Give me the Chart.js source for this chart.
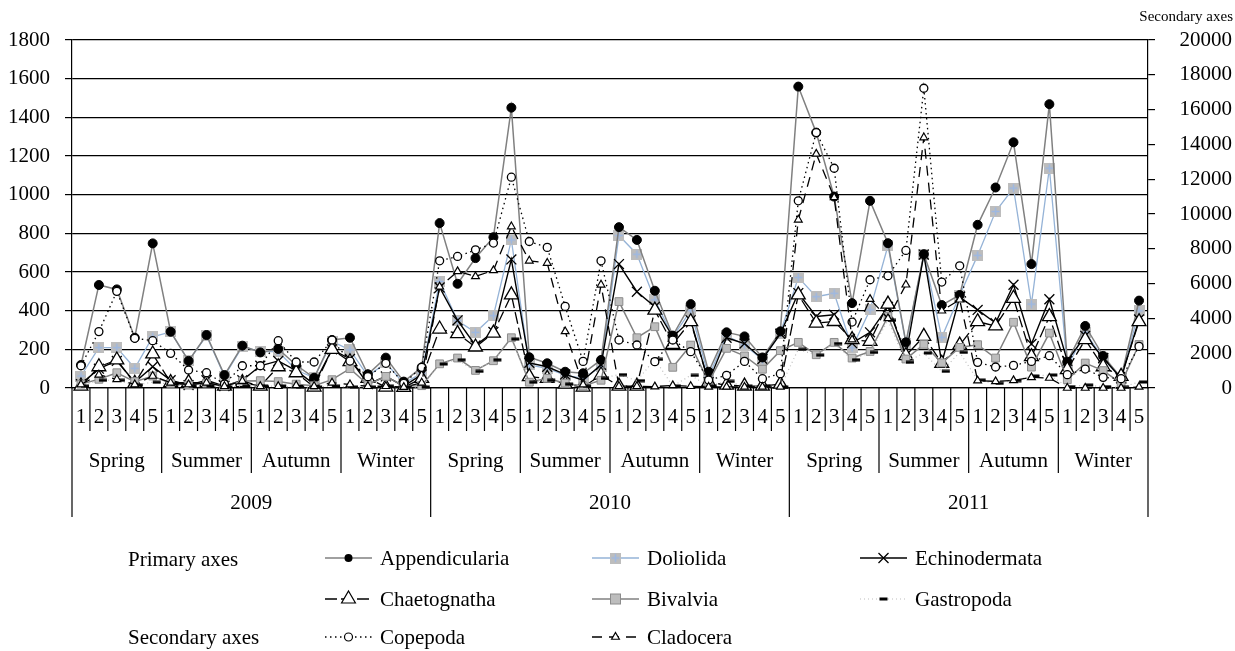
<!DOCTYPE html>
<html><head><meta charset="utf-8">
<script src="https://cdn.jsdelivr.net/npm/chart.js@4.4.1/dist/chart.umd.min.js"></script>
<style>html,body{margin:0;padding:0;background:#fff;}canvas{display:block;}</style>
</head><body>
<canvas id="c" width="1235" height="651"></canvas>
<script>
// ---------- data ----------
const years = ['2009', '2010', '2011'];
const seasons = ['Spring', 'Summer', 'Autumn', 'Winter'];
const samples = ['1', '2', '3', '4', '5'];
const leftTicks = [0, 200, 400, 600, 800, 1000, 1200, 1400, 1600, 1800];
const rightTicks = [0, 2000, 4000, 6000, 8000, 10000, 12000, 14000, 16000, 18000, 20000];

const appendicularia = [119,533,510,260,748,291,140,274,67,219,184,202,119,53,248,260,71,157,33,107,
  853,539,672,780,1450,159,128,84,76,145,832,766,503,271,434,84,288,267,158,293,
  1559,1321,990,439,968,749,236,692,429,481,844,1037,1271,641,1468,136,321,166,53,452];
const doliolida = [62,209,209,102,265,290,140,270,62,214,188,188,93,53,241,197,62,130,24,76,
  551,348,288,374,766,119,102,67,50,110,789,692,456,265,400,59,270,224,146,284,
  572,472,490,208,404,736,230,690,262,480,686,913,1034,434,1137,110,288,153,50,399];
const echinodermata = [20,100,140,30,110,40,15,40,10,40,115,140,90,20,200,150,20,60,10,70,
  520,350,220,290,665,130,110,70,40,120,641,498,420,265,350,30,260,230,150,280,
  491,370,379,232,288,420,170,690,130,470,404,336,534,228,459,140,270,155,50,355];
const chaetognatha = [10,110,145,24,176,28,28,28,10,28,10,110,79,5,200,136,50,5,3,50,
  305,281,212,284,482,59,50,20,5,67,10,10,403,226,343,30,15,10,10,20,
  482,336,344,250,241,434,167,267,128,222,343,321,464,162,369,95,250,110,60,343];
const bivalvia = [20,45,79,33,62,24,15,25,10,36,38,33,20,12,43,100,17,60,10,12,
  125,155,91,141,260,30,50,25,10,40,447,260,317,107,222,30,205,166,97,193,
  236,172,236,155,189,370,150,226,130,210,224,155,340,108,284,43,129,90,24,225];
const gastropoda = [10,40,40,15,30,20,10,10,5,10,10,10,5,5,10,5,5,10,5,5,
  124,146,86,146,253,30,40,20,10,50,69,38,148,10,65,10,34,10,10,5,
  200,170,230,146,184,350,133,181,86,184,41,24,38,62,67,7,15,7,3,31];
const copepoda = [1280,3240,5555,2855,2720,1990,1035,880,230,1280,1280,2720,1493,1493,2760,1550,650,1420,268,1190,
  7310,7560,7940,8330,12115,8420,8080,4690,1530,7310,2760,2470,1515,2760,2090,460,727,1530,535,823,
  10757,14680,12630,3790,6220,6450,7905,17226,6087,7024,1474,1206,1300,1530,1857,765,1090,612,535,2392];
const cladocera = [200,760,500,200,690,300,200,300,100,400,100,100,150,100,300,200,100,100,50,300,
  5820,6700,6410,6760,9280,7310,7180,3250,190,5930,100,100,80,150,100,60,60,60,60,60,
  9666,13455,10950,2775,5110,4000,5933,14393,4440,5072,420,383,440,612,574,0,0,0,0,60];

// category labels built from the arrays
const labels = [];
years.forEach(() => seasons.forEach(() => samples.forEach(s => labels.push(s))));

// ---------- styles ----------
const FONT = '"Liberation Serif", "DejaVu Serif", serif';

function makeDolio() {
  const c = document.createElement('canvas'); c.width = 11; c.height = 11;
  const g = c.getContext('2d');
  g.fillStyle = '#bdbdbd'; g.fillRect(0, 0, 11, 11);
  g.strokeStyle = '#9db8e2'; g.lineWidth = 1.5;
  g.beginPath(); g.moveTo(5.5, 1.5); g.lineTo(5.5, 9.5); g.moveTo(1.5, 5.5); g.lineTo(9.5, 5.5); g.stroke();
  return c;
}
function makeDash() {
  const c = document.createElement('canvas'); c.width = 18; c.height = 4;
  const g = c.getContext('2d');
  g.fillStyle = '#000'; g.fillRect(9, 0.5, 8, 3);
  return c;
}
const dolioImg = makeDolio();
const dashImg = makeDash();

const datasets = [
  { label: 'Appendicularia', data: appendicularia, yAxisID: 'y', order: 7,
    borderColor: '#808080', borderWidth: 1.5, pointStyle: 'circle', pointRadius: 4.5,
    pointBackgroundColor: '#000', pointBorderColor: '#000', pointBorderWidth: 1 },
  { label: 'Doliolida', data: doliolida, yAxisID: 'y', order: 8,
    borderColor: '#95b3d7', borderWidth: 1.3, pointStyle: dolioImg, pointRadius: 5 },
  { label: 'Echinodermata', data: echinodermata, yAxisID: 'y', order: 6,
    borderColor: '#000', borderWidth: 1.4, pointStyle: 'crossRot', pointRadius: 7,
    pointBorderColor: '#000', pointBorderWidth: 1.3 },
  { label: 'Chaetognatha', data: chaetognatha, yAxisID: 'y', order: 5,
    borderColor: '#000', borderWidth: 1.3, borderDash: [12, 4], pointStyle: 'triangle', pointRadius: 8,
    pointBackgroundColor: '#fff', pointBorderColor: '#000', pointBorderWidth: 1.3 },
  { label: 'Bivalvia', data: bivalvia, yAxisID: 'y', order: 4,
    borderColor: '#808080', borderWidth: 1.5, pointStyle: 'rect', pointRadius: 5.5,
    pointBackgroundColor: '#bdbdbd', pointBorderColor: '#8c8c8c', pointBorderWidth: 1 },
  { label: 'Gastropoda', data: gastropoda, yAxisID: 'y', order: 3,
    borderColor: '#bdbdbd', borderWidth: 1.2, borderDash: [1, 3], pointStyle: dashImg, pointRadius: 4 },
  { label: 'Copepoda', data: copepoda, yAxisID: 'y2', order: 2,
    borderColor: '#000', borderWidth: 1.3, borderDash: [1.5, 3.5], pointStyle: 'circle', pointRadius: 4,
    pointBackgroundColor: '#fff', pointBorderColor: '#000', pointBorderWidth: 1.3 },
  { label: 'Cladocera', data: cladocera, yAxisID: 'y2', order: 1,
    borderColor: '#000', borderWidth: 1.3, borderDash: [10, 7], pointStyle: 'triangle', pointRadius: 4.5,
    pointBackgroundColor: '#fff', pointBorderColor: '#000', pointBorderWidth: 1.2 }
];
datasets.forEach(d => { d.fill = false; d.tension = 0; d.clip = 12; d.pointHoverRadius = d.pointRadius; });

// legend layout (custom, drawn below the axis)
const legendRows = [
  [['Appendicularia', 0], ['Doliolida', 1], ['Echinodermata', 2]],
  [['Chaetognatha', 3], ['Bivalvia', 4], ['Gastropoda', 5]],
  [['Copepoda', 6], ['Cladocera', 7]]
];
const legendColX = [325, 592, 860];
const legendRowY = [558, 599, 637];

function drawMarker(ctx, idx, x, y) {
  ctx.save();
  ctx.setLineDash([]);
  switch (idx) {
    case 0: ctx.fillStyle = '#000'; ctx.beginPath(); ctx.arc(x, y, 4, 0, Math.PI * 2); ctx.fill(); break;
    case 1: ctx.drawImage(dolioImg, x - 5.5, y - 5.5); break;
    case 2: ctx.strokeStyle = '#000'; ctx.lineWidth = 1.3; ctx.beginPath();
      ctx.moveTo(x - 5, y - 5); ctx.lineTo(x + 5, y + 5); ctx.moveTo(x - 5, y + 5); ctx.lineTo(x + 5, y - 5); ctx.stroke(); break;
    case 3: tri(ctx, x, y, 8); break;
    case 4: ctx.fillStyle = '#bdbdbd'; ctx.strokeStyle = '#8c8c8c'; ctx.lineWidth = 1;
      ctx.fillRect(x - 5, y - 5, 10, 10); ctx.strokeRect(x - 5, y - 5, 10, 10); break;
    case 5: ctx.fillStyle = '#000'; ctx.fillRect(x - 4, y - 1.5, 8, 3); break;
    case 6: ctx.fillStyle = '#fff'; ctx.strokeStyle = '#000'; ctx.lineWidth = 1.2;
      ctx.beginPath(); ctx.arc(x, y, 4, 0, Math.PI * 2); ctx.fill(); ctx.stroke(); break;
    case 7: tri(ctx, x, y, 4.5); break;
  }
  ctx.restore();
}
function tri(ctx, x, y, r) {
  ctx.fillStyle = '#fff'; ctx.strokeStyle = '#000'; ctx.lineWidth = 1.2;
  const h = r * Math.sqrt(3) / 2;
  ctx.beginPath();
  ctx.moveTo(x, y - r); ctx.lineTo(x + h, y + r / 2); ctx.lineTo(x - h, y + r / 2); ctx.closePath();
  ctx.fill(); ctx.stroke();
}

const extras = {
  id: 'extras',
  afterDraw(chart) {
    const { ctx, chartArea: a, scales: { x } } = chart;
    const n = labels.length;
    const half = (x.getPixelForValue(1) - x.getPixelForValue(0)) / 2;
    ctx.save();
    // separators of the multi-level category axis
    ctx.strokeStyle = '#000'; ctx.lineWidth = 1.2; ctx.setLineDash([]);
    for (let i = 0; i <= n; i++) {
      const px = i < n ? x.getPixelForValue(i) - half : x.getPixelForValue(n - 1) + half;
      const end = i % 20 === 0 ? 517 : (i % 5 === 0 ? 473 : 431);
      ctx.beginPath(); ctx.moveTo(px, a.bottom); ctx.lineTo(px, end); ctx.stroke();
    }
    ctx.fillStyle = '#000'; ctx.textAlign = 'center'; ctx.textBaseline = 'middle';
    ctx.font = '21px ' + FONT;
    years.forEach((yr, yi) => {
      seasons.forEach((s, si) => {
        const i0 = yi * 20 + si * 5, i1 = i0 + 4;
        ctx.fillText(s, (x.getPixelForValue(i0) + x.getPixelForValue(i1)) / 2, 461);
      });
      const j0 = yi * 20, j1 = j0 + 19;
      ctx.fillText(yr, (x.getPixelForValue(j0) + x.getPixelForValue(j1)) / 2, 503);
    });
    // secondary axis title
    ctx.font = '15px ' + FONT; ctx.textAlign = 'right';
    ctx.fillText('Secondary axes', 1233, 17);
    // legend
    ctx.font = '21px ' + FONT; ctx.textAlign = 'left';
    ctx.fillText('Primary axes', 128, 560);
    ctx.fillText('Secondary axes', 128, 638);
    legendRows.forEach((row, r) => {
      row.forEach(([name, idx], c) => {
        const d = datasets[idx];
        const x0 = legendColX[c], y0 = legendRowY[r];
        ctx.save();
        ctx.strokeStyle = d.borderColor; ctx.lineWidth = d.borderWidth;
        ctx.setLineDash(d.borderDash || []);
        ctx.beginPath(); ctx.moveTo(x0, y0); ctx.lineTo(x0 + 47, y0); ctx.stroke();
        ctx.restore();
        drawMarker(ctx, idx, x0 + 23.5, y0);
        ctx.fillStyle = '#000';
        ctx.fillText(name, x0 + 55, y0 + 1);
      });
    });
    ctx.restore();
  }
};

new Chart(document.getElementById('c'), {
  type: 'line',
  data: { labels, datasets },
  plugins: [extras],
  options: {
    responsive: false, animation: false, devicePixelRatio: 1,
    layout: { padding: { top: 40, right: 3, left: 0, bottom: 0 } },
    plugins: { legend: { display: false }, tooltip: { enabled: false } },
    scales: {
      x: {
        type: 'category', offset: true,
        grid: { display: false, drawTicks: false },
        border: { display: true, color: '#000', width: 1.2 },
        ticks: { font: { family: FONT, size: 21 }, color: '#000', padding: 17, autoSkip: false, maxRotation: 0 },
        afterFit(s) { s.height = 263; }
      },
      y: {
        position: 'left', min: 0, max: 1800,
        afterBuildTicks(s) { s.ticks = leftTicks.map(v => ({ value: v })); },
        grid: { color: '#000', lineWidth: 1.2, tickLength: 7 },
        border: { display: true, color: '#000', width: 1.2 },
        ticks: { font: { family: FONT, size: 21 }, color: '#000', padding: 15, callback: v => String(v) },
        afterFit(s) { s.width = 72; }
      },
      y2: {
        position: 'right', min: 0, max: 20000,
        afterBuildTicks(s) { s.ticks = rightTicks.map(v => ({ value: v })); },
        grid: { drawOnChartArea: false, color: '#000', lineWidth: 1.2, tickLength: 7 },
        border: { display: true, color: '#000', width: 1.2 },
        ticks: { font: { family: FONT, size: 21 }, color: '#000', padding: 5, crossAlign: 'far', callback: v => String(v) },
        afterFit(s) { s.width = 84; }
      }
    }
  }
});
</script>
</body></html>
